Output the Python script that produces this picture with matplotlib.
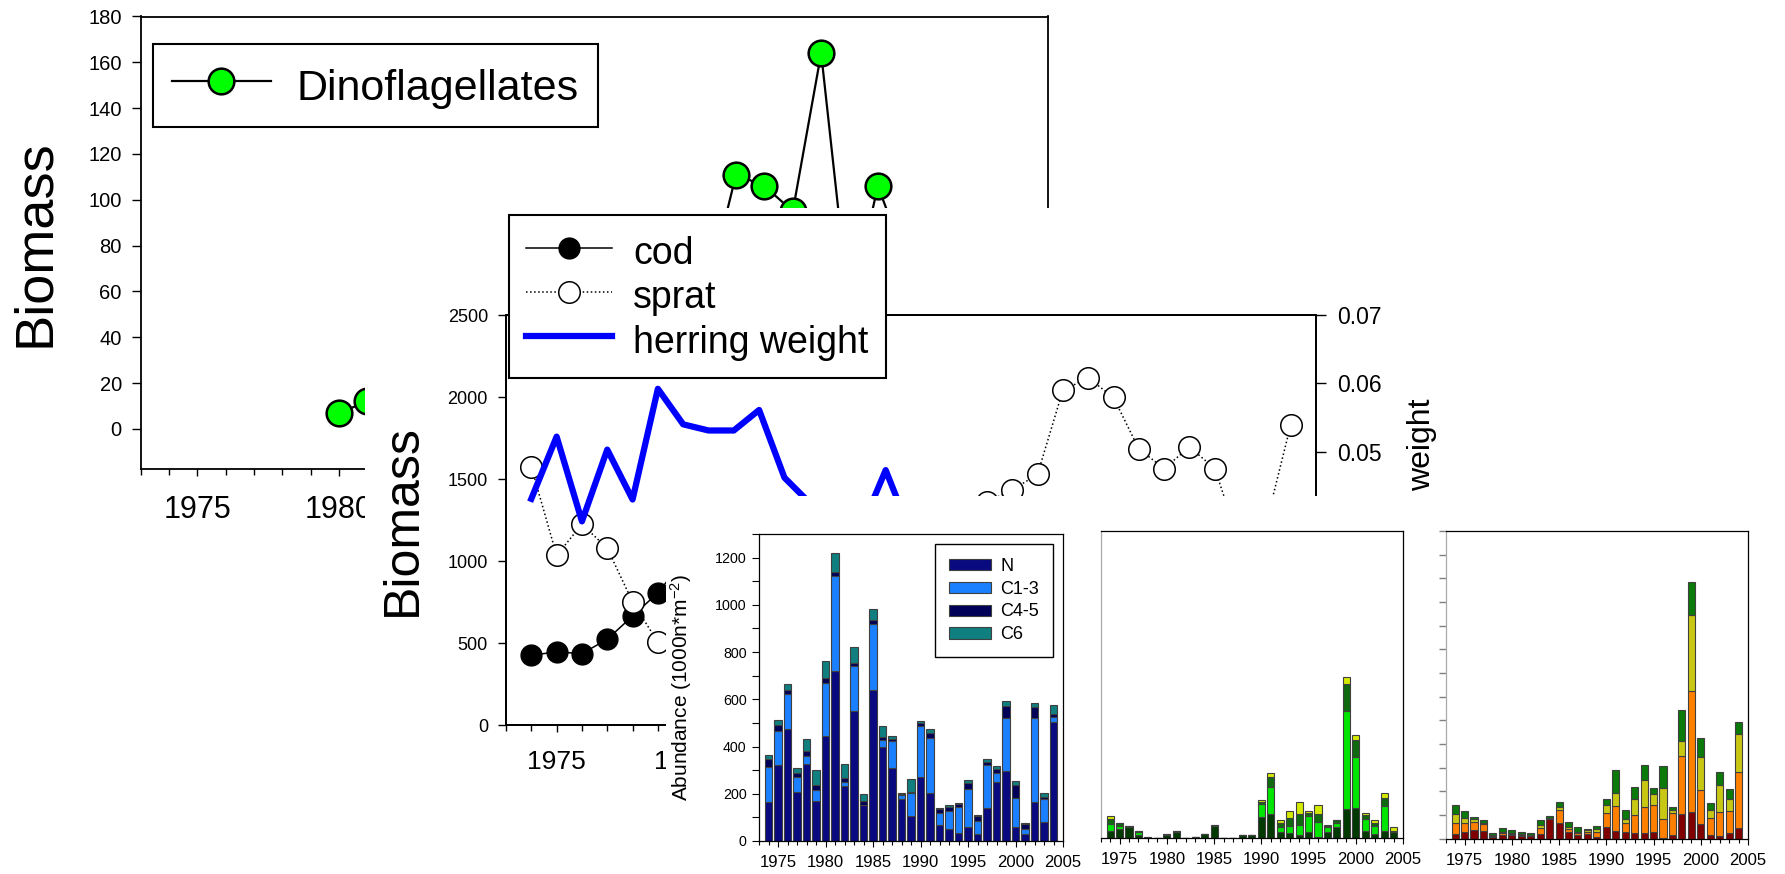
import numpy as np
import matplotlib
matplotlib.use('Agg')
import matplotlib.pyplot as plt
from matplotlib.ticker import MultipleLocator

plt.rcParams['font.family'] = 'Liberation Sans'
plt.rcParams['mathtext.fontset'] = 'custom'
plt.rcParams['mathtext.rm'] = 'Liberation Sans'
plt.rcParams['mathtext.it'] = 'Liberation Sans:italic'
plt.rcParams['mathtext.bf'] = 'Liberation Sans:bold'

W, H = 1785, 874

# --- data ---
dino_years = list(range(1980, 2005))
dino = [7, 12, 15, 25, 10, 20, 30, 18, 22, 40, 35, 55, 45, 61,
        111, 106, 95, 164, 51, 106, 73, 40, 55, 30, 45]

fish_years = list(range(1974, 2005))
cod = [425, 446, 435, 523, 664, 806, 1000, 1150, 1250, 1200, 1100, 900, 700,
       500, 450, 350, 300, 250, 200, 150, 200, 250, 300, 350, 300, 250, 300,
       350, 400, 300, 250]
sprat = [1574, 1034, 1224, 1078, 751, 505, 450, 400, 350, 300, 250, 200, 300,
         350, 400, 500, 700, 1000, 1360, 1433, 1529, 2041, 2117, 1997, 1683,
         1564, 1695, 1564, 1100, 1210, 1829]
herring = [0.0431, 0.0522, 0.0398, 0.0503, 0.0430, 0.0592, 0.0540, 0.0531,
           0.0531, 0.0561, 0.0462, 0.0425, 0.0400, 0.0385, 0.0473, 0.0380,
           0.0360, 0.0340, 0.0330, 0.0350, 0.0340, 0.0320, 0.0330, 0.0310,
           0.0300, 0.0290, 0.0310, 0.0320, 0.0330, 0.0320, 0.0340]
weight_ticks = [0.02, 0.03, 0.04, 0.05, 0.06, 0.07]

zoo_years = list(range(1974, 2005))
cop_N = [167, 322, 474, 206, 325, 169, 445, 720, 234, 551, 152, 638, 397, 308,
         178, 106, 270, 202, 66, 49, 35, 59, 28, 138, 248, 296, 58, 28, 164, 80, 503]
cop_C13 = [148, 145, 149, 66, 35, 47, 223, 402, 17, 192, 0, 280, 31, 116, 18,
           96, 218, 236, 51, 79, 108, 163, 58, 182, 41, 225, 126, 24, 357, 96, 24]
cop_C45 = [32, 26, 17, 15, 23, 23, 22, 19, 17, 12, 17, 18, 11, 7, 3, 7, 10, 21,
           17, 17, 14, 22, 20, 15, 17, 52, 52, 19, 48, 12, 9]
cop_C6 = [16, 19, 24, 24, 50, 63, 71, 80, 57, 67, 29, 45, 49, 14, 4, 52, 9, 14,
          7, 6, 3, 14, 3, 11, 13, 21, 20, 7, 17, 14, 40]
cop_labels = ['N', 'C1-3', 'C4-5', 'C6']

green_1 = [32, 38, 49, 14, 3, 3, 15, 28, 3, 4, 17, 54, 2, 3, 14, 14, 89, 101,
           27, 21, 14, 25, 4, 25, 49, 123, 128, 31, 17, 31, 28]
green_2 = [29, 13, 0, 11, 0, 0, 0, 0, 0, 0, 0, 0, 0, 0, 0, 0, 55, 117, 19, 31,
           41, 69, 66, 23, 17, 415, 217, 51, 35, 106, 0]
green_3 = [21, 12, 5, 6, 1, 0, 2, 2, 0, 1, 0, 2, 0, 0, 0, 0, 10, 40, 20, 33, 49,
           13, 31, 4, 10, 113, 69, 18, 14, 34, 4]
green_4 = [14, 3, 0, 0, 0, 0, 0, 0, 0, 0, 0, 0, 0, 0, 0, 0, 8, 18, 10, 31, 48,
           7, 39, 3, 0, 33, 24, 6, 10, 21, 17]

red_1 = [20, 30, 38, 31, 8, 15, 14, 11, 11, 18, 85, 65, 30, 14, 18, 7, 51, 32,
         27, 25, 24, 27, 4, 15, 103, 113, 62, 15, 11, 24, 46]
red_2 = [46, 38, 31, 30, 3, 8, 7, 6, 4, 27, 2, 55, 12, 10, 12, 21, 56, 105, 38,
         75, 110, 114, 79, 92, 245, 510, 144, 72, 102, 93, 236]
red_3 = [37, 21, 14, 7, 3, 5, 4, 3, 2, 13, 2, 12, 9, 6, 5, 11, 34, 57, 20, 66,
         112, 49, 131, 13, 66, 321, 138, 36, 112, 52, 159]
red_4 = [39, 28, 10, 9, 11, 16, 13, 10, 8, 19, 7, 22, 18, 19, 7, 15, 27, 96, 35,
         51, 64, 24, 92, 14, 128, 142, 83, 26, 55, 41, 52]


def rect(l, t, r, b):
    return [l / W, 1 - b / H, (r - l) / W, (b - t) / H]


def blank(ax):
    ax.set_facecolor('white')
    ax.set_xticks([])
    ax.set_yticks([])
    for s in ax.spines.values():
        s.set_visible(False)


def stack(ax, years, layers, colors, labels=None):
    bottom = np.zeros(len(years))
    for i, (vals, c) in enumerate(zip(layers, colors)):
        lab = labels[i] if labels else None
        ax.bar(years, vals, 0.75, bottom=bottom, color=c, edgecolor='#404040',
               linewidth=0.8, label=lab)
        bottom += np.array(vals)


fig = plt.figure(figsize=(W / 100, H / 100), dpi=100)

# --- panel 1: dinoflagellates ---
ax1 = fig.add_axes(rect(140.6, 16.5, 1048, 469))
ax1.plot(dino_years, dino, '-o', color='black', lw=1.6, ms=18.5,
         mfc='#00ff00', mec='black', mew=1.8, label='Dinoflagellates')
ax1.set_xlim(1973, 2005)
ax1.set_ylim(-17.5, 180)
ax1.set_yticks(range(0, 181, 20))
ax1.xaxis.set_major_locator(MultipleLocator(5))
ax1.xaxis.set_minor_locator(MultipleLocator(1))
ax1.tick_params(axis='y', direction='out', length=6.5, width=1, labelsize=14.5, pad=7)
ax1.tick_params(axis='x', which='major', direction='out', length=5, width=1,
                labelsize=22, pad=14)
ax1.tick_params(axis='x', which='minor', direction='out', length=4, width=1)
for s in ax1.spines.values():
    s.set_linewidth(1.3)
ax1.set_ylabel('Biomass', fontsize=39)
ax1.yaxis.set_label_coords(-0.089, 0.5)
leg1 = ax1.legend(loc='upper left', bbox_to_anchor=(152.8 / W, 1 - 44 / H),
                  bbox_transform=fig.transFigure, borderaxespad=0, fontsize=31,
                  fancybox=False, edgecolor='black', framealpha=1,
                  handlelength=2.3, handleheight=1.2, handletextpad=0.6,
                  borderpad=0.44)
leg1.get_frame().set_linewidth(1.5)

# --- panel 2: fish ---
bg2 = fig.add_axes(rect(365, 208, W, H))
blank(bg2)

ax2 = fig.add_axes(rect(506, 315, 1316, 725))
ax2.plot(fish_years, cod, '-o', color='black', lw=1.1, ms=15, mfc='black',
         mec='black', label='cod')
ax2.plot(fish_years, sprat, ':o', color='black', lw=1.1, ms=15.5, mfc='white',
         mec='black', mew=1.1, label='sprat')
ax2.set_xlim(1973, 2005)
ax2.set_ylim(0, 2500)
ax2.set_yticks(range(0, 2501, 500))
ax2.xaxis.set_major_locator(MultipleLocator(5))
ax2.xaxis.set_minor_locator(MultipleLocator(1))
ax2.tick_params(axis='y', direction='out', length=6, width=1, labelsize=13, pad=7)
ax2.tick_params(axis='x', which='major', direction='out', length=5, width=1,
                labelsize=19, pad=13)
ax2.tick_params(axis='x', which='minor', direction='out', length=4.5, width=1)
ax2.set_ylabel('Biomass', fontsize=36)
ax2.yaxis.set_label_coords(-0.099, 0.5)

ax2r = ax2.twinx()
ax2r.plot(fish_years, herring, color='#0000ff', lw=4.5, label='herring weight')
ax2r.set_ylim(0.01, 0.07)
ax2r.set_yticks(weight_ticks)
ax2r.set_yticklabels(['%.2f' % v for v in weight_ticks])
ax2r.tick_params(axis='y', direction='out', length=7, width=1, labelsize=16.5, pad=8)
ax2r.set_ylabel('weight', fontsize=23)
ax2r.yaxis.label.set_verticalalignment('center')
ax2r.yaxis.set_label_coords(1.131, 0.683)
for a in (ax2, ax2r):
    for s in a.spines.values():
        s.set_linewidth(1.3)

h1, l1 = ax2.get_legend_handles_labels()
h2, l2 = ax2r.get_legend_handles_labels()
leg2 = ax2r.legend(h1 + h2, l1 + l2, loc='upper left',
                   bbox_to_anchor=(509.2 / W, 1 - 215 / H),
                   bbox_transform=fig.transFigure, borderaxespad=0, fontsize=27,
                   fancybox=False, edgecolor='black', framealpha=1,
                   handlelength=2.3, handleheight=1.25, handletextpad=0.56,
                   borderpad=0.45, labelspacing=0.1)
leg2.get_frame().set_linewidth(1.5)

# --- panel 3: zooplankton bars ---
bg3 = fig.add_axes(rect(666, 496, W, H))
blank(bg3)

ax3a = fig.add_axes(rect(759, 534, 1063, 841))
ax3b = fig.add_axes(rect(1100.7, 531, 1403, 838.3))
ax3c = fig.add_axes(rect(1445.7, 531, 1748, 838.7))

stack(ax3a, zoo_years, [cop_N, cop_C13, cop_C45, cop_C6],
      ['#0a0a80', '#1a80ff', '#000058', '#0f7f7f'], cop_labels)
stack(ax3b, zoo_years, [green_1, green_2, green_3, green_4],
      ['#003a00', '#00e600', '#0f6a0f', '#d4ea00'])
stack(ax3c, zoo_years, [red_1, red_2, red_3, red_4],
      ['#800000', '#ff8000', '#c8c814', '#0a7a0a'])

for a in (ax3a, ax3b, ax3c):
    a.set_xlim(1973, 2005)
    a.set_ylim(0, 1300)
    a.xaxis.set_major_locator(MultipleLocator(5))
    a.xaxis.set_minor_locator(MultipleLocator(1))
    a.tick_params(axis='x', which='major', direction='out', length=4, width=0.8,
                  labelsize=12, pad=6)
    a.tick_params(axis='x', which='minor', direction='out', length=3, width=0.8)
    for s in a.spines.values():
        s.set_linewidth(0.9)

ax3a.yaxis.set_major_locator(MultipleLocator(200))
ax3a.yaxis.set_minor_locator(MultipleLocator(100))
ax3a.tick_params(axis='y', which='both', direction='out', length=5, width=0.8,
                 labelsize=10.3, pad=4)
ax3a.set_ylabel('Abundance (1000n*m$^{-2}$)', fontsize=15)
ax3a.yaxis.set_label_coords(-0.214, 0.5)
leg3 = ax3a.legend(loc='upper left', bbox_to_anchor=(935 / W, 1 - 544 / H),
                   bbox_transform=fig.transFigure, borderaxespad=0, fontsize=13,
                   fancybox=False, edgecolor='black', framealpha=1,
                   handlelength=2.35, handleheight=0.57, handletextpad=0.52,
                   borderpad=0.75, labelspacing=0.33)
leg3.get_frame().set_linewidth(1.0)

ax3b.tick_params(axis='y', left=False, labelleft=False)
ax3b.spines['left'].set_color('#aaaaaa')

ax3c.yaxis.set_major_locator(MultipleLocator(100))
ax3c.tick_params(axis='y', direction='out', length=5, width=1, color='#808080',
                 labelleft=False)
ax3c.spines['left'].set_color('#aaaaaa')

fig.savefig('out.png', dpi=100)
